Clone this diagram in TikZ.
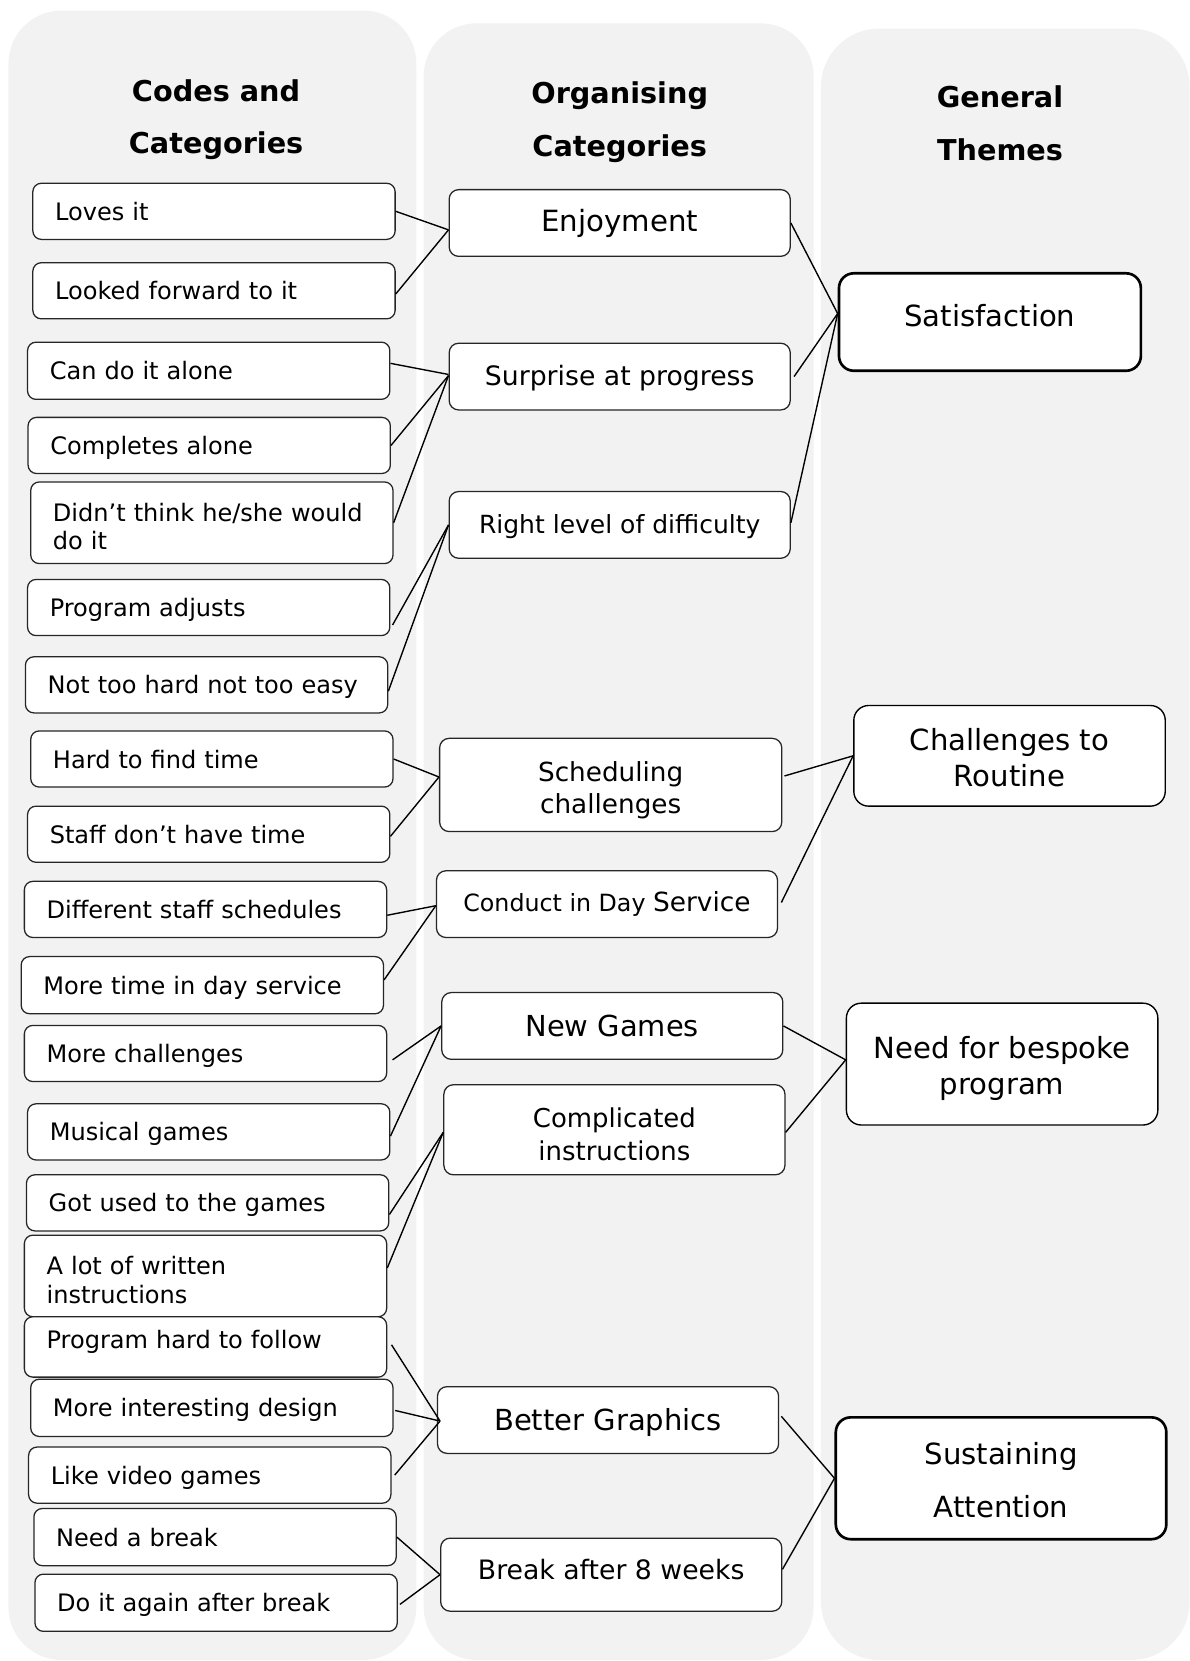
\documentclass[tikz,border=0pt]{standalone}
\usepackage{fontspec}
\setmainfont{DejaVu Sans}
\definecolor{colgray}{HTML}{F2F2F2}
\definecolor{boxline}{HTML}{262626}
\newcommand\fsz[2]{\fontsize{#1}{#2}\selectfont}
% invisible strut that sets the height of a first text line
\newcommand\firstlift[1]{\rule{0pt}{#1}}
\begin{document}
\begin{tikzpicture}[x=1pt,y=-1pt,
  head/.style={align=center, inner sep=0pt, font=\bfseries\fsz{27.1}{50}},
  code/.style={draw=boxline, line width=1.2pt, fill=white, rounded corners=8pt,
    align=left, text width=300pt, inner xsep=21pt, inner ysep=0pt,
    font=\fsz{22.7}{27}},
  oneline/.style={text height=21.5pt, text depth=4.5pt},
  cat/.style={draw=boxline, line width=1.2pt, fill=white, rounded corners=9pt,
    align=center, inner sep=0pt, minimum width=322pt},
  theme/.style={draw=black, line width=1.3pt, fill=white, rounded corners=14pt,
    align=center, inner sep=0pt, font=\fsz{27.5}{34}},
  strong/.style={line width=2.5pt},
  link/.style={draw=black, line width=1.3pt}]

\useasboundingbox (0,0) rectangle (1123,1568);
\fill[white] (0,0) rectangle (1123,1568);

% column panels
\fill[colgray, rounded corners=50pt] (8,10) rectangle (393,1567);
\fill[colgray, rounded corners=50pt] (400,22) rectangle (768,1567);
\fill[colgray, rounded corners=55pt] (775,27) rectangle (1123,1567);

% column headings
\node[head] (h1) at (204,113) {Codes and\\Categories};
\node[head] (h2) at (585,115) {Organising\\Categories};
\node[head] (h3) at (944,116) {General\\Themes};

% codes and categories
\node[code, oneline, minimum height=53pt] (c1) at (202,199.5) {Loves it};
\node[code, oneline, minimum height=53pt] (c2) at (202,274.5) {Looked forward to it};
\node[code, oneline, minimum height=54pt] (c3) at (197,350) {Can do it alone};
\node[code, oneline, minimum height=53pt] (c4) at (197.5,420.5) {Completes alone};
\node[code, minimum height=77pt, text height=24pt] (c5) at (200,493.5) {Didn’t think he/she would\\do it};
\node[code, oneline, minimum height=53pt] (c6) at (197,573.5) {Program adjusts};
\node[code, oneline, minimum height=53pt] (c7) at (195,646.5) {Not too hard not too easy};
\node[code, oneline, minimum height=53pt] (c8) at (200,716.5) {Hard to find time};
\node[code, oneline, minimum height=53pt] (c9) at (197,787.5) {Staff don’t have time};
\node[code, oneline, minimum height=53pt] (c10) at (194,858.5) {Different staff schedules};
\node[code, oneline, minimum height=54pt] (c11) at (191,930) {More time in day service};
\node[code, oneline, minimum height=53pt] (c12) at (194,994.5) {More challenges};
\node[code, oneline, minimum height=53pt] (c13) at (197,1068.5) {Musical games};
\node[code, oneline, minimum height=53pt] (c14) at (196,1135.5) {Got used to the games};
\node[code, minimum height=77pt, text height=25pt] (c15) at (194,1204.5) {A lot of written\\instructions};
\node[code, minimum height=57pt, text depth=14pt] (c16) at (194,1271.5) {Program hard to follow};
\node[code, oneline, minimum height=54pt] (c17) at (200,1329) {More interesting design};
\node[code, oneline, minimum height=53pt] (c18) at (198,1392.5) {Like video games};
\node[code, oneline, minimum height=54pt] (c19) at (203,1451) {Need a break};
\node[code, oneline, minimum height=54pt] (c20) at (204,1513) {Do it again after break};

% organising categories
\node[cat, minimum height=63pt, text height=22pt, font=\fsz{27.6}{33}] (oA) at (585,210.5) {Enjoyment};
\node[cat, minimum height=63pt, text height=20pt, text depth=4pt, font=\fsz{25.2}{30}] (oB) at (585,355.5) {Surprise at progress};
\node[cat, minimum height=63pt, text height=20pt, text depth=4pt, font=\fsz{23.6}{28}] (oC) at (585,495.5) {Right level of difficulty};
\node[cat, minimum height=88pt, minimum width=323pt, font=\fsz{24.8}{30}] (oD) at (576.5,741) {\firstlift{29pt}Scheduling\\challenges};
\node[cat, minimum height=63pt, font=\fsz{24.9}{30}] (oE) at (573,853.5) {{\fsz{22.4}{27}Conduct in Day }Service};
\node[cat, minimum height=63pt, font=\fsz{27.3}{33}] (oF) at (578,968.5) {New Games};
\node[cat, minimum height=85pt, font=\fsz{24.5}{31}] (oG) at (580,1066.5) {\firstlift{28pt}Complicated\\instructions};
\node[cat, minimum height=63pt, text height=24pt, text depth=5pt, font=\fsz{27.4}{33}] (oH) at (574,1340.5) {Better Graphics};
\node[cat, minimum height=69pt, text depth=11pt, font=\fsz{25.2}{30}] (oI) at (577,1486.5) {Break after 8 weeks};

% general themes
\node[theme, strong, minimum width=285pt, minimum height=92pt, text depth=12pt] (t1) at (934.5,304) {Satisfaction};
\node[theme, minimum width=294pt, minimum height=95pt] (t2) at (953,713.5) {\firstlift{25pt}Challenges to\\Routine};
\node[theme, minimum width=294pt, minimum height=115pt] (t3) at (946,1004.5) {\firstlift{29pt}Need for bespoke\\program};
\node[theme, strong, minimum width=312pt, minimum height=115pt, font=\fsz{27.5}{50}] (t4) at (945,1395.5) {\firstlift{25pt}Sustaining\\Attention};

% codes -> organising categories
\draw[link] (c1.east) -- ([yshift=-6.5pt]oA.west);
\draw[link] ([yshift=-3pt]c2.east) -- ([yshift=-6.5pt]oA.west);
\draw[link] ([yshift=7pt]c3.east) -- ([yshift=2pt]oB.west);
\draw[link] (c4.east) -- ([yshift=1pt]oB.west);
\draw[link] (c5.east) -- ([yshift=1pt]oB.west);
\draw[link] ([xshift=2pt,yshift=-16.5pt]c6.east) -- (oC.west);
\draw[link] ([yshift=-6pt]c7.east) -- (oC.west);
\draw[link] (c8.east) -- ([yshift=7.5pt]oD.west);
\draw[link] ([yshift=-2pt]c9.east) -- ([yshift=7.5pt]oD.west);
\draw[link] ([yshift=-5.5pt]c10.east) -- ([yshift=-1.5pt]oE.west);
\draw[link] ([yshift=5pt]c11.east) -- ([yshift=-1.5pt]oE.west);
\draw[link] ([xshift=5pt,yshift=-6pt]c12.east) -- (oF.west);
\draw[link] ([yshift=-4pt]c13.east) -- (oF.west);
\draw[link] ([yshift=-11pt]c14.east) -- ([yshift=-2.5pt]oG.west);
\draw[link] ([yshift=7.5pt]c15.east) -- ([yshift=-2.5pt]oG.west);
\draw[link] ([xshift=4pt,yshift=2pt]c16.east) -- ([xshift=3pt,yshift=-1pt]oH.west);
\draw[link] ([xshift=1.5pt,yshift=-2.5pt]c17.east) -- ([xshift=3pt,yshift=-1pt]oH.west);
\draw[link] ([xshift=3pt]c18.east) -- ([xshift=3pt,yshift=-1pt]oH.west);
\draw[link] (c19.east) -- (oI.west);
\draw[link] ([xshift=2pt,yshift=-1.5pt]c20.east) -- (oI.west);

% organising categories -> general themes
\draw[link] (oA.east) -- ([yshift=8pt]t1.west);
\draw[link] ([xshift=3pt]oB.east) -- ([yshift=8pt]t1.west);
\draw[link] ([yshift=2pt]oC.east) -- ([yshift=8pt]t1.west);
\draw[link] ([xshift=2pt,yshift=8.5pt]oD.east) -- (t2.west);
\draw[link] ([xshift=3pt,yshift=1.5pt]oE.east) -- (t2.west);
\draw[link] (oF.east) -- ([yshift=4pt]t3.west);
\draw[link] ([yshift=-2.5pt]oG.east) -- ([yshift=4pt]t3.west);
\draw[link] ([xshift=2pt,yshift=3.5pt]oH.east) -- (t4.west);
\draw[link] ([yshift=5pt]oI.east) -- (t4.west);

\end{tikzpicture}
\end{document}
